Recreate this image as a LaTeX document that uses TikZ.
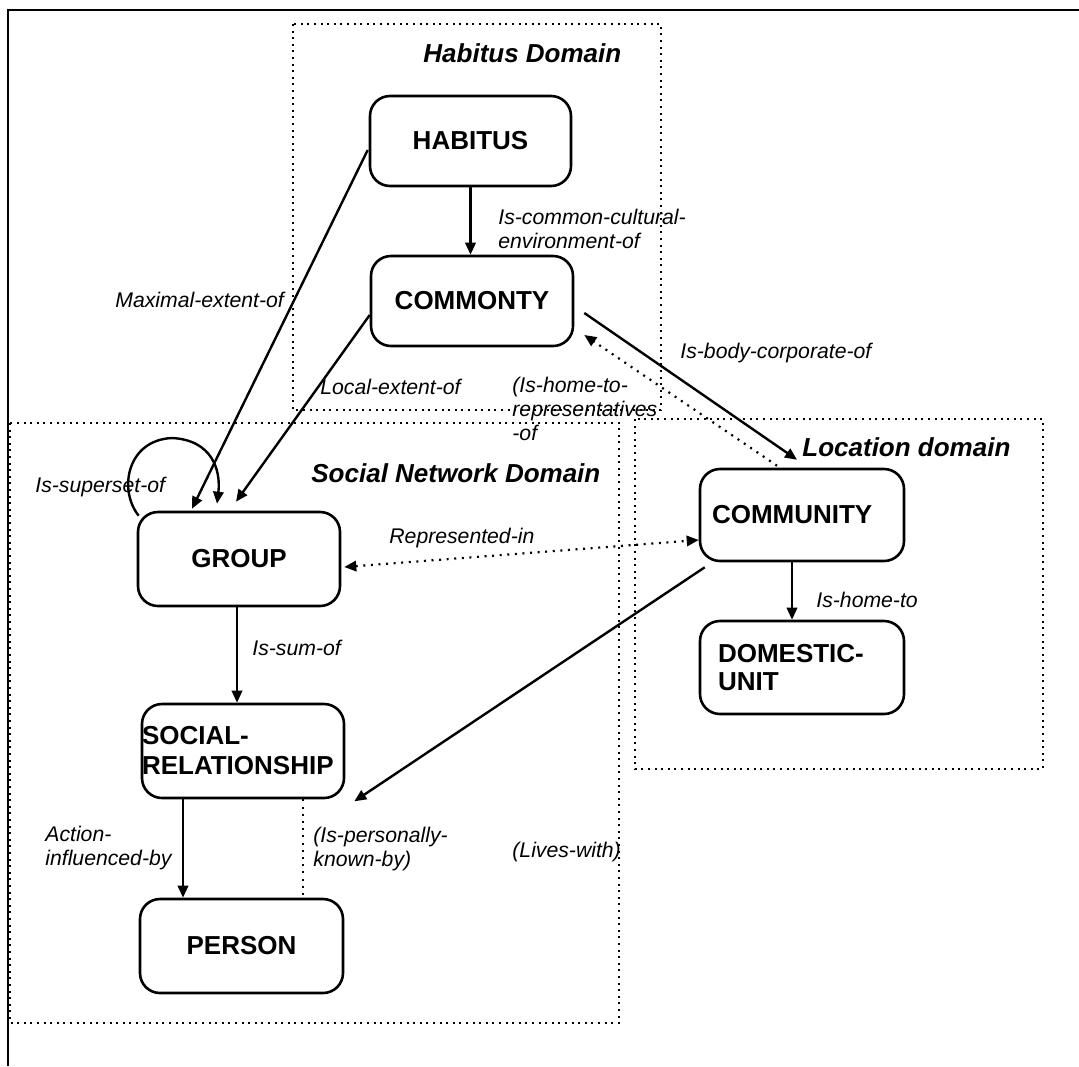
\documentclass[tikz,border=0pt]{standalone}
\usepackage{fontspec}
\setmainfont{Liberation Sans}
\usetikzlibrary{arrows.meta,calc}
\begin{document}
\begin{tikzpicture}[x=0.5pt,y=-0.5pt,
  entity/.style={draw, line width=1.3pt, rounded corners=10pt, inner sep=0pt,
    font=\fontsize{13}{15}\selectfont\bfseries},
  rel/.style={font=\fontsize{10.6}{11.9}\selectfont\itshape, inner sep=0pt,
    anchor=west, align=left},
  domtitle/.style={font=\fontsize{13}{15}\selectfont\bfseries\itshape,
    inner sep=0pt, anchor=west},
  domainbox/.style={line width=1.1pt, dash pattern=on 1pt off 2.3pt},
  arr/.style={line width=1.2pt, -{Triangle[length=6pt,width=5.2pt]}},
  dotarr/.style={line width=1.1pt, dash pattern=on 1pt off 2.8pt},
  tipend/.style={-{Triangle[length=6pt,width=5.2pt]}},
]
\useasboundingbox (0,0) rectangle (1079,1066);

% frame
\draw[line width=1.4pt] (1079,10) -- (8,10) -- (8,1066);

% domains
\draw[domainbox] (293,24) rectangle (661,410);
\draw[domainbox] (10,423) rectangle (619,1023);
\draw[domainbox] (635,419) rectangle (1043,769);
\node[domtitle] (tHab) at (423,53) {Habitus Domain};
\node[domtitle] (tSoc) at (311,473) {Social Network Domain};
\node[domtitle] (tLoc) at (802,447) {Location domain};

% entities
\node[entity, minimum width=100.5pt, minimum height=45pt] (habitus) at (470.5,141) {HABITUS};
\node[entity, minimum width=101pt, minimum height=45pt] (commonty) at (472,301) {COMMONTY};
\node[entity, minimum width=101pt, minimum height=47pt] (group) at (239,559) {GROUP};
\node[entity, text width=90pt, inner xsep=6pt, align=left, minimum height=46pt] (community) at (802,515) {COMMUNITY};
\node[entity, text width=84pt, inner xsep=9pt, align=left, minimum height=46.5pt,
  font=\fontsize{13}{14}\selectfont\bfseries] (domestic) at (802,667.5) {DOMESTIC-\\UNIT};
\node[entity, text width=101pt, align=left, minimum height=47pt] (sr) at (243,751) {SOCIAL-\\RELATIONSHIP};
\node[entity, minimum width=101.5pt, minimum height=47pt] (person) at (241.5,946) {PERSON};

% helper points for vertical connectors
\coordinate (g1) at ($(group.south)+(-2,0)$);
\coordinate (s1) at ($(sr.south)+(-60,0)$);
\coordinate (s2) at ($(sr.south)+(60,0)$);
\coordinate (c1) at ($(community.south)+(-10,0)$);

% connectors
\draw[arr] (habitus.south) -- (habitus.south |- commonty.north);
\draw[arr] ($(habitus.west)+(-1,9)$) -- ($(group.north)+(-47,-2)$);
\draw[arr] ($(group.north west)+(2,5)$) .. controls (118,490) and (127,440) .. (172,438)
  .. controls (212,440) and (221,470) .. ($(group.north)+(-22,-7)$);
\draw[arr] ($(commonty.west)+(0,14)$) -- ($(group.north)+(-3,-9)$);
\draw[arr] ($(commonty.east)+(10,12)$) -- ($(community.north)+(-5,-8)$);
\draw[dotarr, tipend] ($(community.north)+(-25,-2)$) -- ($(commonty.east)+(10,34)$);
\draw[dotarr, {Triangle[length=6pt,width=5.2pt]}-{Triangle[length=6pt,width=5.2pt]}]
  ($(group.east)+(3,8)$) -- ($(community.west)+(0,25)$);
\draw[arr] ($(community.south west)+(6,5)$) -- ($(sr.south east)+(9,2)$);
\draw[arr] (g1) -- (g1 |- sr.north);
\draw[arr] (s1) -- (s1 |- person.north);
\draw[line width=0.8pt, dash pattern=on 1pt off 2.6pt] (s2) -- (s2 |- person.north);
\draw[arr] (c1) -- (c1 |- domestic.north);

% relation labels
\node[rel] (lCult) at (498,229) {Is-common-cultural-\\environment-of};
\node[rel] (lMax) at (115,300) {Maximal-extent-of};
\node[rel] (lLoc) at (320,387) {Local-extent-of};
\node[rel] (lHome) at (512,409) {(Is-home-to-\\representatives\\-of};
\node[rel] (lBody) at (680,353) {Is-body-corporate-of};
\node[rel] (lSup) at (35,487) {Is-superset-of};
\node[rel] (lRep) at (389,538) {Represented-in};
\node[rel] (lHomeTo) at (816,600) {Is-home-to};
\node[rel] (lSum) at (252,648) {Is-sum-of};
\node[rel] (lAct) at (45,848) {Action-\\influenced-by};
\node[rel] (lKnown) at (313,849) {(Is-personally-\\known-by)};
\node[rel] (lLives) at (512,852) {(Lives-with)};
\end{tikzpicture}
\end{document}
